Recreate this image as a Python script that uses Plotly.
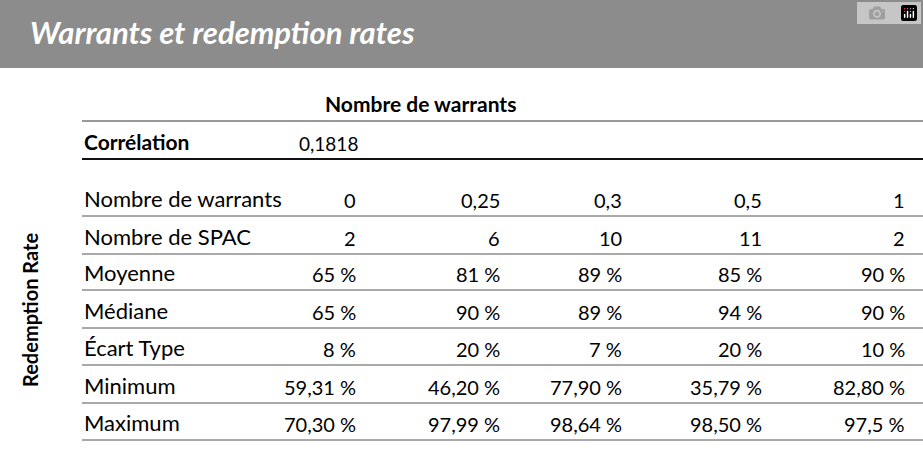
import plotly.graph_objects as go

title = "Warrants et redemption rates"
col_header = "Nombre de warrants"
side_label = "Redemption Rate"
corr_label = "Corrélation"
corr_value = "0,1818"
row_labels = ["Nombre de warrants", "Nombre de SPAC", "Moyenne", "Médiane",
              "Écart Type", "Minimum", "Maximum"]
cells = [
    ["0", "0,25", "0,3", "0,5", "1"],
    ["2", "6", "10", "11", "2"],
    ["65 %", "81 %", "89 %", "85 %", "90 %"],
    ["65 %", "90 %", "89 %", "94 %", "90 %"],
    ["8 %", "20 %", "7 %", "20 %", "10 %"],
    ["59,31 %", "46,20 %", "77,90 %", "35,79 %", "82,80 %"],
    ["70,30 %", "97,99 %", "98,64 %", "98,50 %", "97,5 %"],
]

FONT = "Lato"
col_right = [358, 502, 624, 764, 907]
row_y = [198, 236, 272, 310, 347, 385, 422]

fig = go.Figure()
ann = []
shapes = []

# grey title band
shapes.append(dict(type="rect", x0=0, x1=923, y0=0, y1=68, fillcolor="#8c8c8c", line_width=0, layer="below"))
ann.append(dict(x=28, y=32, text="<b><i>" + title + "</i></b>", xanchor="left", showarrow=False,
                font=dict(family=FONT, size=31, color="white")))

ann.append(dict(x=420, y=103, text="<b>" + col_header + "</b>", showarrow=False,
                font=dict(family=FONT, size=21, color="black")))
ann.append(dict(x=82, y=141, text="<b>" + corr_label + "</b>", xanchor="left", showarrow=False,
                font=dict(family=FONT, size=21, color="black")))
ann.append(dict(x=297, y=143, text=corr_value, xanchor="left", showarrow=False,
                font=dict(family=FONT, size=19, color="black")))
ann.append(dict(x=30, y=310, text="<b>" + side_label + "</b>", textangle=-90, showarrow=False,
                font=dict(family=FONT, size=20, color="black")))

shapes.append(dict(type="line", x0=82, x1=923, y0=121, y1=121, line=dict(color="#333", width=1)))
shapes.append(dict(type="line", x0=82, x1=923, y0=159, y1=159, line=dict(color="#111", width=2)))

for label, y, vals in zip(row_labels, row_y, cells):
    ann.append(dict(x=82, y=y, text=label, xanchor="left", showarrow=False,
                    font=dict(family=FONT, size=22, color="black")))
    for v, xr in zip(vals, col_right):
        ann.append(dict(x=xr, y=y + 2, text=v, xanchor="right", showarrow=False,
                        font=dict(family=FONT, size=20, color="black")))
    shapes.append(dict(type="line", x0=82, x1=923, y0=y + 18, y1=y + 18,
                       line=dict(color="#555", width=1)))

fig.update_layout(
    width=923, height=468, margin=dict(l=0, r=0, t=0, b=0),
    plot_bgcolor="white", paper_bgcolor="white",
    xaxis=dict(range=[0, 923], visible=False, fixedrange=True),
    yaxis=dict(range=[468, 0], visible=False, fixedrange=True),
    annotations=ann, shapes=shapes, showlegend=False,
)
fig.write_html("out.html", post_script="document.body.style.margin='0';")
